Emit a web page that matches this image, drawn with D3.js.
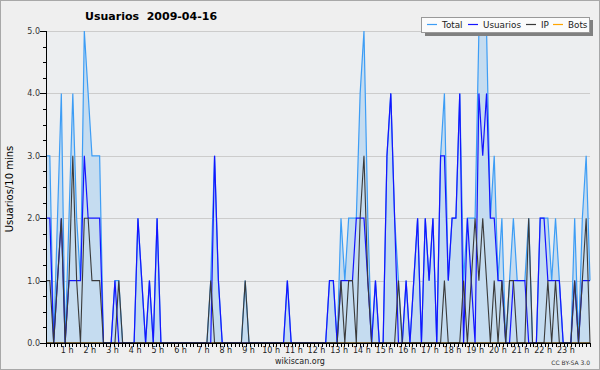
<!DOCTYPE html>
<html>
<head>
<meta charset="utf-8">
<script src="https://cdn.jsdelivr.net/npm/d3@7"></script>
<style>
  body { margin: 0; background: #efefef; }
  text { font-family: "DejaVu Sans", sans-serif; }
</style>
</head>
<body>
<svg id="canvas" width="600" height="370"></svg>
<script>
// one value every 10 minutes, from 0 h
const usuarios = [
  2, 2, 0, 1, 2, 0, 1, 1, 1, 1, 3, 2,
  2, 2, 2, 0, 0, 0, 1, 0, 0, 0, 0, 0,
  2, 1, 0, 1, 0, 2, 0, 0, 0, 0, 0, 0,
  0, 0, 0, 0, 0, 0, 0, 0, 3, 1, 0, 0,
  0, 0, 0, 0, 0, 0, 0, 0, 0, 0, 0, 0,
  0, 0, 0, 1, 0, 0, 0, 0, 0, 0, 0, 0,
  0, 0, 1, 1, 0, 1, 1, 1, 1, 2, 2, 2,
  1, 0, 1, 0, 0, 3, 4, 2, 0, 0, 1, 0,
  1, 2, 0, 2, 1, 2, 0, 3, 3, 1, 2, 2,
  4, 0, 2, 1, 0, 4, 3, 4, 2, 2, 1, 1,
  0, 0, 1, 1, 1, 1, 0, 0, 0, 2, 2, 1,
  1, 1, 1, 0, 0, 0, 1, 0, 1, 1, 1
];
const ip = [
  1, 1, 0, 1, 2, 0, 1, 3, 1, 0, 2, 2,
  1, 1, 1, 0, 0, 0, 0, 1, 0, 0, 0, 0,
  0, 0, 0, 0, 0, 0, 0, 0, 0, 0, 0, 0,
  0, 0, 0, 0, 0, 0, 0, 1, 0, 0, 0, 0,
  0, 0, 0, 0, 1, 0, 0, 0, 0, 0, 0, 0,
  0, 0, 0, 0, 0, 0, 0, 0, 0, 0, 0, 0,
  0, 0, 0, 0, 0, 1, 0, 1, 1, 0, 2, 3,
  1, 0, 0, 0, 0, 0, 0, 0, 1, 0, 0, 0,
  0, 0, 0, 0, 0, 0, 0, 0, 1, 0, 0, 0,
  0, 1, 0, 1, 2, 1, 2, 1, 0, 1, 0, 1,
  0, 1, 1, 0, 0, 0, 2, 0, 0, 0, 0, 1,
  0, 1, 0, 0, 0, 0, 1, 0, 1, 2, 0
];
const total = [
  3, 3, 0, 2, 4, 0, 2, 4, 2, 1, 5, 4,
  3, 3, 3, 0, 0, 0, 1, 1, 0, 0, 0, 0,
  2, 1, 0, 1, 0, 2, 0, 0, 0, 0, 0, 0,
  0, 0, 0, 0, 0, 0, 0, 1, 3, 1, 0, 0,
  0, 0, 0, 0, 1, 0, 0, 0, 0, 0, 0, 0,
  0, 0, 0, 1, 0, 0, 0, 0, 0, 0, 0, 0,
  0, 0, 1, 1, 0, 2, 1, 2, 2, 2, 4, 5,
  2, 0, 1, 0, 0, 3, 4, 2, 1, 0, 1, 0,
  1, 2, 0, 2, 1, 2, 0, 3, 4, 1, 2, 2,
  4, 1, 2, 2, 2, 5, 5, 5, 2, 3, 1, 2,
  0, 1, 2, 1, 1, 1, 2, 0, 0, 2, 2, 2,
  1, 2, 1, 0, 0, 0, 2, 0, 2, 3, 1
];
const bots = [
  0, 0, 0, 0, 0, 0, 0, 0, 0, 0, 0, 0,
  0, 0, 0, 0, 0, 0, 0, 0, 0, 0, 0, 0,
  0, 0, 0, 0, 0, 0, 0, 0, 0, 0, 0, 0,
  0, 0, 0, 0, 0, 0, 0, 0, 0, 0, 0, 0,
  0, 0, 0, 0, 0, 0, 0, 0, 0, 0, 0, 0,
  0, 0, 0, 0, 0, 0, 0, 0, 0, 0, 0, 0,
  0, 0, 0, 0, 0, 0, 0, 0, 0, 0, 0, 0,
  0, 0, 0, 0, 0, 0, 0, 0, 0, 0, 0, 0,
  0, 0, 0, 0, 0, 0, 0, 0, 0, 0, 0, 0,
  0, 0, 0, 0, 0, 0, 0, 0, 0, 0, 0, 0,
  0, 0, 0, 0, 0, 0, 0, 0, 0, 0, 0, 0,
  0, 0, 0, 0, 0, 0, 0, 0, 0, 0, 0
];
const hourLabels = ["1 h", "2 h", "3 h", "4 h", "5 h", "6 h", "7 h", "8 h", "9 h", "10 h", "11 h", "12 h",
  "13 h", "14 h", "15 h", "16 h", "17 h", "18 h", "19 h", "20 h", "21 h", "22 h", "23 h"];
const yTicks = [0, 1, 2, 3, 4, 5];

const series = [
  { name: "Total", values: total, color: "#3d9df5" },
  { name: "Usuarios", values: usuarios, color: "#1414ff" },
  { name: "IP", values: ip, color: "#3a3a3a" },
  { name: "Bots", values: bots, color: "#ffa500" }
];

const svg = d3.select("svg#canvas");
const width = +svg.attr("width");
const height = +svg.attr("height");
const plot = { left: 46, right: 590, top: 31, bottom: 343 };

const x = d3.scaleLinear().domain([0, total.length - 1]).range([plot.left, plot.right]);
const xTime = d3.scaleLinear().domain([0, 144]).range([plot.left, plot.right]);
const y = d3.scaleLinear().domain([0, 5]).range([plot.bottom, plot.top]);

// frame
svg.append("rect")
  .attr("x", 0.5).attr("y", 0.5)
  .attr("width", width - 1).attr("height", height - 1)
  .attr("fill", "#efefef").attr("stroke", "#a8a8a8");
svg.append("rect")
  .attr("x", plot.left).attr("y", plot.top)
  .attr("width", plot.right - plot.left).attr("height", plot.bottom - plot.top)
  .attr("fill", "#eceef0");

// grid
svg.append("g")
  .selectAll("line")
  .data(yTicks.filter((d) => d > 0))
  .enter()
  .append("line")
  .attr("x1", plot.left).attr("x2", plot.right)
  .attr("y1", (d) => Math.round(y(d)) + 0.5).attr("y2", (d) => Math.round(y(d)) + 0.5)
  .attr("stroke", "#cccccc");

// total area
svg.append("path")
  .datum(total)
  .attr("fill", "#c5dcf0")
  .attr("d", d3.area().x((d, i) => x(i)).y0(y(0)).y1((d) => y(d)));

// lines: bots first (it lies on the baseline), then total, usuarios, ip
const line = d3.line().x((d, i) => x(i)).y((d) => y(d));
svg.append("g")
  .selectAll("path")
  .data([series[3], series[0], series[1], series[2]])
  .enter()
  .append("path")
  .attr("fill", "none")
  .attr("stroke", (d) => d.color)
  .attr("stroke-width", (d) => (d.name === "IP" ? 1.1 : 1.2))
  .attr("d", (d) => line(d.values));

// y axis
const yAxis = svg.append("g").attr("transform", `translate(${plot.left},0)`);
yAxis.append("line")
  .attr("x1", 0.5).attr("x2", 0.5).attr("y1", plot.top).attr("y2", plot.bottom)
  .attr("stroke", "#000");
yAxis.selectAll("line.minor")
  .data(d3.range(0, 5.01, 0.25))
  .enter()
  .append("line")
  .attr("class", "minor")
  .attr("x1", (d) => (d % 1 === 0 ? -6 : -3)).attr("x2", 0)
  .attr("y1", (d) => Math.round(y(d)) + 0.5).attr("y2", (d) => Math.round(y(d)) + 0.5)
  .attr("stroke", "#000");
yAxis.selectAll("text")
  .data(yTicks)
  .enter()
  .append("text")
  .attr("x", -6).attr("y", (d) => y(d) + 3)
  .attr("text-anchor", "end")
  .attr("font-size", 8)
  .attr("fill", "#333")
  .text((d) => d.toFixed(1));

// x axis, drawn over the bots line
const xAxis = svg.append("g").attr("transform", `translate(0,${plot.bottom})`);
xAxis.append("line")
  .attr("x1", plot.left).attr("x2", plot.right).attr("y1", 0.2).attr("y2", 0.2)
  .attr("stroke", "#000")
  .attr("stroke-width", 1.6);
xAxis.selectAll("line.tick")
  .data(d3.range(0, 145))
  .enter()
  .append("line")
  .attr("class", "tick")
  .attr("x1", (d) => Math.round(xTime(d)) + 0.5).attr("x2", (d) => Math.round(xTime(d)) + 0.5)
  .attr("y1", 0).attr("y2", 4)
  .attr("stroke", "#000");
xAxis.selectAll("text")
  .data(hourLabels)
  .enter()
  .append("text")
  .attr("x", (d, i) => xTime((i + 1) * 6) - 1.5)
  .attr("y", 10)
  .attr("text-anchor", "middle")
  .attr("font-size", 8)
  .attr("fill", "#222")
  .text((d) => d);

// titles
svg.append("text")
  .attr("x", 85).attr("y", 20)
  .attr("font-size", 11).attr("font-weight", "bold")
  .style("white-space", "pre")
  .text("Usuarios  2009-04-16");
svg.append("text")
  .attr("transform", "translate(13,189) rotate(-90)")
  .attr("text-anchor", "middle")
  .attr("font-size", 10)
  .text("Usuarios/10 mins");
svg.append("text")
  .attr("x", 300).attr("y", 364)
  .attr("text-anchor", "middle")
  .attr("font-size", 8).attr("fill", "#222")
  .text("wikiscan.org");
svg.append("text")
  .attr("x", 590).attr("y", 365)
  .attr("text-anchor", "end")
  .attr("font-size", 6).attr("fill", "#333")
  .text("CC BY-SA 3.0");

// legend
const legend = svg.append("g");
legend.append("rect")
  .attr("x", 425).attr("y", 20).attr("width", 168).attr("height", 16)
  .attr("fill", "#808080");
legend.append("rect")
  .attr("x", 421.5).attr("y", 17.5).attr("width", 168).attr("height", 15)
  .attr("fill", "#fbfbfb").attr("stroke", "#999");
const legendX = [427, 468, 526, 553];
const item = legend.selectAll("g.item")
  .data(series)
  .enter()
  .append("g")
  .attr("class", "item")
  .attr("transform", (d, i) => `translate(${legendX[i]},0)`);
item.append("line")
  .attr("x1", 0).attr("x2", 10).attr("y1", 24.5).attr("y2", 24.5)
  .attr("stroke", (d) => d.color)
  .attr("stroke-width", 1.2);
item.append("text")
  .attr("x", 15).attr("y", 28)
  .attr("font-size", 8.8)
  .attr("fill", "#222")
  .text((d) => d.name);
</script>
</body>
</html>
